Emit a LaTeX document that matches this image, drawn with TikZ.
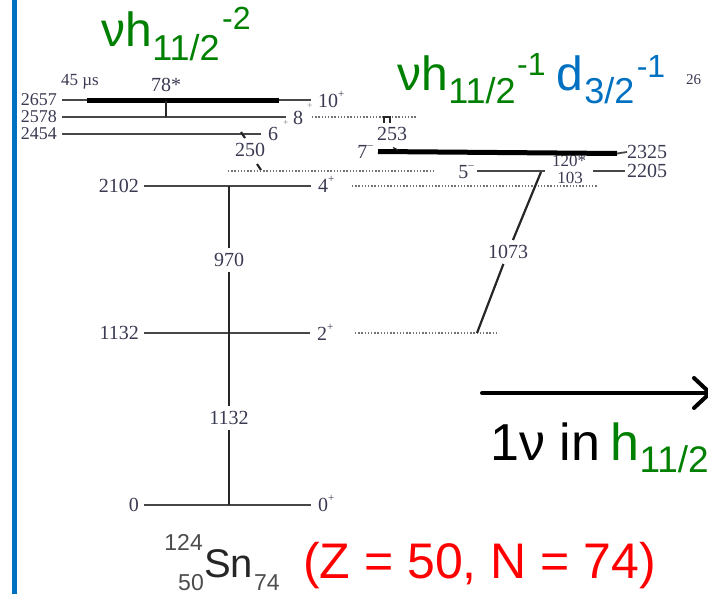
\documentclass[tikz,border=0pt]{standalone}
\usepackage{fontspec}
\setmainfont{Liberation Serif}
\newfontfamily\handfont{Liberation Sans}
\usetikzlibrary{arrows.meta,positioning,calc}
\definecolor{lvltext}{HTML}{3A3A52}
\definecolor{orbgreen}{HTML}{008000}
\definecolor{orbblue}{HTML}{0070C0}
\definecolor{barblue}{HTML}{0070C0}
\definecolor{snred}{HTML}{FF0000}

% raised parity sign on a spin label
\newcommand{\spar}[1]{\raisebox{10pt}{\fontsize{11}{11}\selectfont #1}}

\begin{document}
\begin{tikzpicture}[x=1pt, y=-1pt,
    level/.style={draw=black!72, line width=1.8pt, shorten <=5pt, shorten >=7pt},
    isomer/.style={draw=black, line width=5pt},
    dotlvl/.style={draw=black!55, line width=1.4pt, dash pattern=on 1.3pt off 1.9pt},
    gam/.style={draw=black!85, line width=2.2pt},
    elab/.style={font=\fontsize{20}{20}\selectfont, text=lvltext, inner sep=0pt},
    tight/.style={font=\fontsize{18}{18}\selectfont},
    jlab/.style={font=\fontsize{20}{20}\selectfont, text=lvltext, inner sep=0pt, anchor=base west},
    glab/.style={font=\fontsize{20}{20}\selectfont, text=lvltext, inner sep=5pt},
    small/.style={font=\fontsize{17}{17}\selectfont, text=lvltext, inner sep=0pt},
    orb/.style={font=\handfont\fontsize{48}{48}\selectfont, inner sep=0pt, anchor=base west},
    orbsub/.style={font=\handfont\fontsize{36}{36}\selectfont, inner sep=0pt, anchor=base west},
    orbsup/.style={font=\handfont\fontsize{32}{32}\selectfont, inner sep=0pt, anchor=base west}]

\useasboundingbox (0,0) rectangle (708,594);
\clip (0,0) rectangle (708,594);

% left margin bar
\fill[barblue] (12,0) rectangle (17,594);

% Configuration headings
\node[orb, text=orbgreen] (t1nu) at (101,47) {νh};
\node[orbsub, text=orbgreen] (t1sub) at ([yshift=-13pt]t1nu.base east) {11/2};
\node[orbsup, text=orbgreen] (t1sup) at ([xshift=2pt, yshift=30pt]t1sub.base east) {-2};

\node[orb, text=orbgreen] (t2nu) at (397,90) {νh};
\node[orbsub, text=orbgreen] (t2sub) at ([yshift=-13pt]t2nu.base east) {11/2};
\node[orbsup, text=orbgreen] (t2sup) at ([xshift=1pt, yshift=28pt]t2sub.base east) {-1};
\node[orb, text=orbblue] (t2d) at (556,90) {d};
\node[orbsub, text=orbblue] (t2dsub) at ([xshift=1pt, yshift=-13pt]t2d.base east) {3/2};
\node[orbsup, text=orbblue] (t2dsup) at ([xshift=2pt, yshift=26pt]t2dsub.base east) {-1};
\node[small, font=\fontsize{15}{15}\selectfont, anchor=west] (cut26) at (686,80) {26};

% Energy labels (left)
\node[elab, tight, anchor=east] (e2657) at (57,100) {2657};
\node[elab, tight, anchor=east] (e2578) at (57,117) {2578};
\node[elab, tight, anchor=east] (e2454) at (57,134) {2454};
\node[elab, anchor=east] (e2102) at (139,186) {2102};
\node[elab, anchor=east] (e1132) at (139,333) {1132};
\node[elab, anchor=east] (e0) at (139,505) {0};

% Spin labels
\node[jlab] (j2657) at (318,107) {10\spar{+}};
\node[jlab] (j2578) at (293,124) {8};
\node[jlab] (j2454) at (268,140) {6};
\node[jlab] (j2102) at (318,192) {4\spar{+}};
\node[jlab] (j1132) at (317,340) {2\spar{+}};
\node[jlab] (j0) at (318,511) {0\spar{+}};
\node[font=\fontsize{9}{9}\selectfont, text=lvltext!70, inner sep=0pt] (p10) at (310,106) {+};
\node[font=\fontsize{9}{9}\selectfont, text=lvltext!70, inner sep=0pt] (p8) at (286,123) {+};

% Ground band levels
\draw[level] (e2657.east) -- (e2657.east -| j2657.west);
\draw[level] (e2578.east) -- (e2578.east -| j2578.west);
\draw[level] (e2454.east) -- (e2454.east -| j2454.west);
\draw[level] (e2102.east) -- (e2102.east -| j2102.west);
\draw[level] (e1132.east) -- (e1132.east -| j1132.west);
\draw[level] (e0.east) -- (e0.east -| j0.west);

% 10+ isomer
\node[small] (tau) at (80,82) {45 µs};
\node[elab] (g78) at (166,85) {78*};
\coordinate (i10a) at (87,100.5);
\coordinate (i10b) at (279,100.5);
\draw[isomer] (i10a) -- (i10b);
\coordinate (g78a) at (166,101);
\coordinate (g78b) at (166,117);
\draw[gam] (g78a) -- (g78b);

% 250 keV
\node[elab] (g250) at (250,150) {250};
\draw[gam] (241,132) -- (245,138);
\draw[gam] (257,164) -- (261,170);

% Dotted level extensions
\coordinate (d8a) at (312,117);   \coordinate (d8b) at (417,117);
\coordinate (d4a) at (228,171);   \coordinate (d4b) at (435,171);
\coordinate (d4c) at (352,186);   \coordinate (d4d) at (598,186);
\coordinate (d2a) at (355,333);   \coordinate (d2b) at (497,333);
\draw[dotlvl] (d8a) -- (d8b);
\draw[dotlvl] (d4a) -- (d4b);
\draw[dotlvl] (d4c) -- (d4d);
\draw[dotlvl] (d2a) -- (d2b);

% Negative-parity side band
\node[elab] (g253) at (392,134) {253};
\draw[gam, line width=1.5pt] (384,123) -- (384,117) -- (390,117) -- (390,123);
\node[small] (g120) at (569,161) {120*};
\node[small] (g103) at (570,178) {103};
\node[elab, anchor=base east] (j7m) at (373,158) {7\spar{--}};
\node[elab, anchor=base east] (j5m) at (474,178) {5\spar{--}};
\node[elab, anchor=west] (e2325) at (627,152) {2325};
\node[elab, anchor=west] (e2205) at (627,171) {2205};
\coordinate (i7a) at (378,151.5);
\coordinate (i7b) at (617,153.5);
\draw[isomer] (i7a) -- (i7b);
\draw[level, shorten <=0pt, shorten >=0pt] (i7b) -- (e2325.west);
\draw[gam, line width=1.2pt] (393,147.5) -- (398,150);
\coordinate (l5a) at (477,171);  \coordinate (l5b) at (545,171);
\coordinate (l5c) at (593,171);
\draw[level, shorten <=0pt, shorten >=0pt] (l5a) -- (l5b);
\draw[level, shorten <=0pt, shorten >=2pt] (l5c) -- (e2205.west);

% Gamma transitions
\coordinate (g2102) at (229,186);
\coordinate (g1132) at (229,333);
\coordinate (g0) at (229,505);
\node[glab] (t970) at (229,260) {970};
\node[glab] (t1132) at (229,418) {1132};
\draw[gam] (g2102) -- (t970) -- (g1132) -- (t1132) -- (g0);
\coordinate (g5top) at (541,172);
\coordinate (g2bot) at (477,333);
\node[glab] (t1073) at (508,252) {1073};
\draw[gam] (g5top) -- (t1073) -- (g2bot);

% 1 neutron arrow
\coordinate (ar1) at (482,393);
\coordinate (ar2) at (712,393);
\draw[line width=4pt, line cap=round, -{Straight Barb[round, length=16pt, width=30pt]}] (ar1) -- (ar2);
\node[orb, font=\handfont\fontsize{52}{52}\selectfont] (onenu) at (490,460) {1ν in};
\node[orb, font=\handfont\fontsize{52}{52}\selectfont, text=orbgreen] (hlab) at (610,460) {h};
\node[orbsub, font=\handfont\fontsize{37}{37}\selectfont, text=orbgreen] (hsub) at ([yshift=-12pt]hlab.base east) {11/2};

% Nucleus label
\node[font=\handfont\fontsize{40}{40}\selectfont, text=black!85, inner sep=0pt, anchor=base west] (sn) at (204,577) {Sn};
\node[font=\handfont\fontsize{23}{23}\selectfont, text=black!70, inner sep=0pt, anchor=base east] (snA) at (203,550) {124};
\node[font=\handfont\fontsize{23}{23}\selectfont, text=black!70, inner sep=0pt, anchor=base east] (snZ) at (204,590) {50};
\node[font=\handfont\fontsize{23}{23}\selectfont, text=black!70, inner sep=0pt, anchor=base west] (snN) at (254,590) {74};
\node[font=\handfont\fontsize{50}{50}\selectfont, text=snred, inner sep=0pt, anchor=base west] (zn) at (303,578) {(Z = 50, N = 74)};

\end{tikzpicture}
\end{document}
